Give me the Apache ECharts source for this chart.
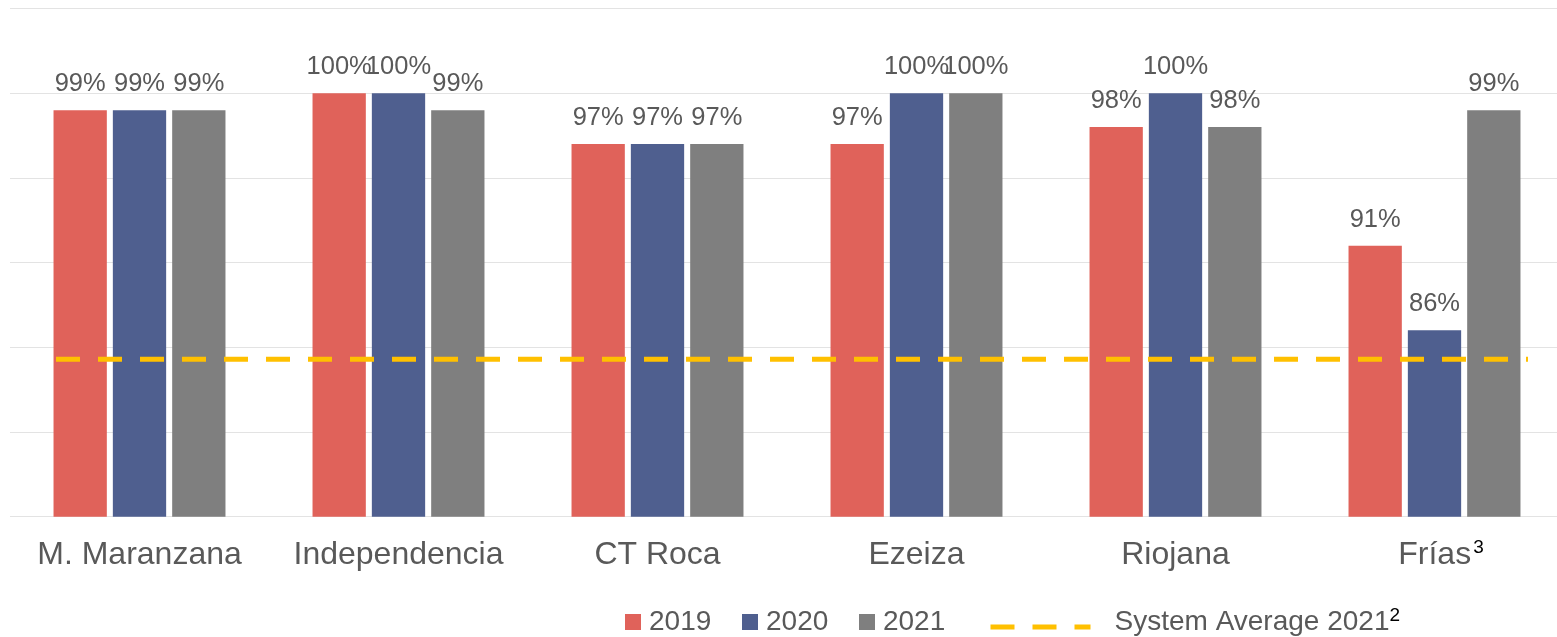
<!DOCTYPE html>
<html>
<head>
<meta charset="utf-8">
<script src="https://cdn.jsdelivr.net/npm/echarts@6/dist/echarts.min.js"></script>
<style>
html,body{margin:0;padding:0;background:#fff;}
#chart{width:1557px;height:637px;}
</style>
</head>
<body>
<div id="chart"></div>
<script>
// ---- data ----
const categories = ['M. Maranzana', 'Independencia', 'CT Roca', 'Ezeiza', 'Riojana', 'Frías'];
const categoryNotes = ['', '', '', '', '', '3'];
const seriesNames = ['2019', '2020', '2021'];
const values2019 = [99, 100, 97, 97, 98, 91];
const values2020 = [99, 100, 97, 100, 100, 86];
const values2021 = [99, 99, 97, 100, 98, 99];
const averageName = 'System Average 2021';
const averageNote = '2';
const averageValue = 84.3;
const yTicks = [75, 80, 85, 90, 95, 100, 105];

// ---- styles ----
const colors = ['#E0625A', '#4F5F8F', '#7F7F7F'];
const avgColor = '#FFC000';
const textColor = '#595959';
const font = 'Liberation Sans, Arial, sans-serif';

const chart = echarts.init(document.getElementById('chart'));
const barValues = [values2019, values2020, values2021];

const barSeries = seriesNames.map((name, i) => ({
  name: name,
  type: 'bar',
  xAxisIndex: 0,
  yAxisIndex: 0,
  data: barValues[i],
  barWidth: 53.3,
  barGap: '11.3%',
  itemStyle: { color: colors[i] },
  labelLayout: { moveOverlap: 'shiftX' },
  label: {
    show: true,
    position: 'top',
    distance: 13,
    formatter: '{c}%',
    fontFamily: font,
    fontSize: 25.5,
    lineHeight: 26,
    color: textColor
  }
}));

const option = {
  animation: false,
  backgroundColor: '#fff',
  grid: [
    { left: 10, top: 8.5, width: 1554, height: 508.2, outerBoundsMode: 'none', containLabel: false },
    { left: 56, top: 8.5, width: 1472, height: 508.2, outerBoundsMode: 'none', containLabel: false }
  ],
  xAxis: [
    {
      type: 'category',
      gridIndex: 0,
      data: categories,
      axisLine: { show: false },
      axisTick: { show: false },
      axisLabel: {
        interval: 0,
        margin: 22,
        fontFamily: font,
        fontSize: 32,
        lineHeight: 32,
        color: textColor,
        formatter: function (value, idx) {
          const note = categoryNotes[idx];
          if (note) {
            return '{sp| }{main|' + value + '}{sup|' + note + '}';
          }
          return value;
        },
        rich: {
          sp: { width: 13, fontSize: 10, lineHeight: 32 },
          main: { fontFamily: font, fontSize: 32, lineHeight: 32, color: textColor },
          sup: { fontFamily: font, fontSize: 19, lineHeight: 12, color: '#000', verticalAlign: 'top', padding: [0, 0, 0, 2] }
        }
      }
    },
    {
      type: 'category',
      gridIndex: 1,
      data: ['start', 'end'],
      boundaryGap: false,
      show: false
    }
  ],
  yAxis: [
    {
      type: 'value',
      gridIndex: 0,
      min: yTicks[0],
      max: yTicks[yTicks.length - 1],
      interval: yTicks[1] - yTicks[0],
      axisLine: { show: false },
      axisTick: { show: false },
      axisLabel: { show: false },
      splitLine: { show: true, lineStyle: { color: '#E3E3E3', width: 1 } }
    },
    {
      type: 'value',
      gridIndex: 1,
      min: yTicks[0],
      max: yTicks[yTicks.length - 1],
      show: false,
      splitLine: { show: false }
    }
  ],
  legend: [
    {
      data: seriesNames,
      left: 625,
      top: 606,
      padding: 0,
      itemWidth: 16,
      itemHeight: 16,
      itemGap: 30.7,
      icon: 'rect',
      textStyle: {
        fontFamily: font,
        fontSize: 28,
        lineHeight: 32,
        color: textColor,
        padding: [0, 0, 0, 3]
      }
    },
    {
      data: [averageName],
      left: 988,
      top: 606,
      padding: 0,
      itemWidth: 100,
      itemHeight: 5,
      lineStyle: { width: 5, type: [24, 18], color: avgColor },
      formatter: function (name) {
        return '{main|' + name + '}{sup|' + averageNote + '}';
      },
      textStyle: {
        fontFamily: font,
        fontSize: 28,
        lineHeight: 32,
        color: textColor,
        padding: [0, 0, 10, 19],
        rich: {
          main: { fontFamily: font, fontSize: 28, lineHeight: 32, color: textColor },
          sup: { fontFamily: font, fontSize: 19, lineHeight: 22, color: '#000', verticalAlign: 'top' }
        }
      }
    }
  ],
  series: barSeries.concat([
    {
      name: averageName,
      type: 'line',
      xAxisIndex: 1,
      yAxisIndex: 1,
      data: [averageValue, averageValue],
      symbol: 'none',
      silent: true,
      lineStyle: { color: avgColor, width: 5, type: [24, 18], cap: 'butt' },
      itemStyle: { color: avgColor },
      z: 5
    }
  ])
};

chart.setOption(option);
</script>
</body>
</html>
